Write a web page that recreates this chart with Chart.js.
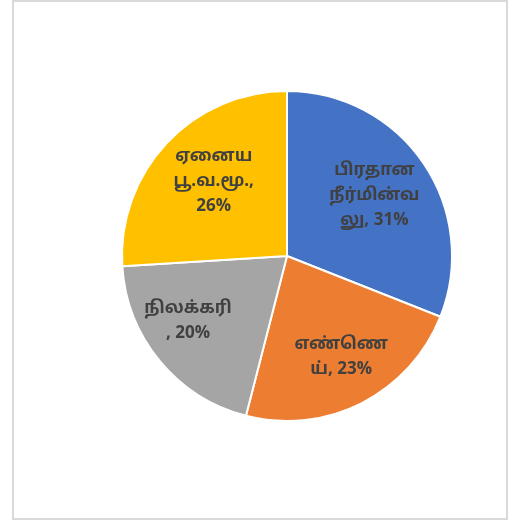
<!DOCTYPE html>
<html>
<head>
<meta charset="utf-8">
<script src="https://cdn.jsdelivr.net/npm/chart.js@4/dist/chart.umd.min.js"></script>
<style>
  html, body { margin: 0; padding: 0; background: #ffffff; }
  #wrap { position: relative; width: 531px; height: 522px; }
  #frame {
    position: absolute; left: 12px; top: 0px; width: 492px; height: 516px;
    border: 2px solid #d9d9d9; pointer-events: none;
  }
  canvas { position: absolute; left: 0; top: 0; }
</style>
</head>
<body>
<div id="wrap">
  <canvas id="chart" width="531" height="522"></canvas>
  <div id="frame"></div>
</div>
<script>
// slice data
const sourceLabels = [
    ['பிரதான', 'நீர்மின்வ', 'லு, 31%'],
    ['எண்ணெ', 'ய், 23%'],
    ['நிலக்கரி', ', 20%'],
    ['ஏனைய', 'பூ.வ.மூ.,', '26%']
];
const shares = [31, 23, 20, 26];
const sliceColors = ['#4472C4', '#ED7D31', '#A5A5A5', '#FFC000'];

// where each label sits: fraction of the radius and a small angle nudge (degrees)
const labelRadius = [0.64, 0.70, 0.72, 0.63];
const labelNudge = [0, -1, 6, 2];

const LABEL_FONT = 'bold 17px "Noto Sans Tamil", "Noto Sans", "Liberation Sans", sans-serif';

/**
 * Draws the multi-line label inside each slice
 */
const sliceLabels = {
    id: 'sliceLabels',
    afterDatasetsDraw(chart) {
        const ctx = chart.ctx;
        const meta = chart.getDatasetMeta(0);
        ctx.save();
        ctx.font = LABEL_FONT;
        ctx.fillStyle = '#404040';
        ctx.textAlign = 'center';
        ctx.textBaseline = 'middle';
        meta.data.forEach((arc, i) => {
            const mid = (arc.startAngle + arc.endAngle) / 2 + labelNudge[i] * Math.PI / 180;
            const r = arc.outerRadius * labelRadius[i];
            const x = arc.x + Math.cos(mid) * r;
            const y = arc.y + Math.sin(mid) * r;
            const lines = sourceLabels[i];
            const lh = 25;
            const top = y - (lines.length - 1) * lh / 2;
            lines.forEach((line, j) => ctx.fillText(line, x, top + j * lh));
        });
        ctx.restore();
    }
};

new Chart(document.getElementById('chart'), {
    type: 'pie',
    data: {
        labels: sourceLabels.map(l => l.join(' ')),
        datasets: [{
            data: shares,
            backgroundColor: sliceColors,
            borderColor: '#ffffff',
            borderWidth: 2
        }]
    },
    options: {
        responsive: false,
        animation: false,
        layout: {
            padding: { left: 121, right: 78, top: 90, bottom: 100 }
        },
        plugins: {
            legend: { display: false },
            tooltip: { enabled: false }
        }
    },
    plugins: [sliceLabels]
});
</script>
</body>
</html>
